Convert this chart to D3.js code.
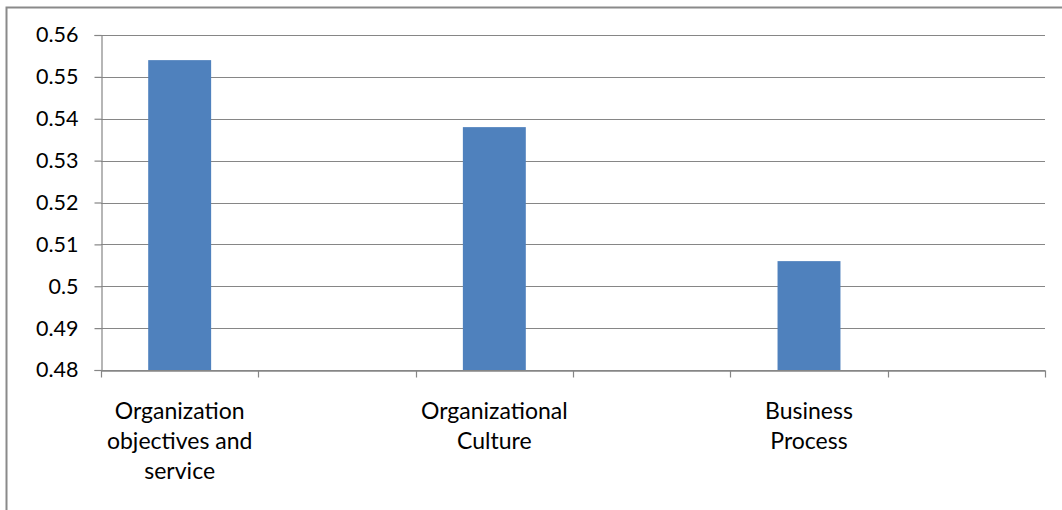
<!DOCTYPE html>
<html><head><meta charset="utf-8">
<script src="https://cdn.jsdelivr.net/npm/d3@7"></script>
<style>html,body{margin:0;padding:0;background:#fff;overflow:hidden}</style>
</head><body>
<svg id="chart" width="1062" height="510"></svg>
<script>
const categories = ["Organization objectives and service", "c2", "Organizational Culture", "c4", "Business Process", "c6"];
const categoryLabels = [["Organization","objectives and","service"], [], ["Organizational","Culture"], [], ["Business","Process"], []];
const values = [0.554, null, 0.538, null, 0.506, null];
const yTicks = [0.48, 0.49, 0.5, 0.51, 0.52, 0.53, 0.54, 0.55, 0.56];
const yTickLabels = ["0.48","0.49","0.5","0.51","0.52","0.53","0.54","0.55","0.56"];

(function () {
const svg = d3.select("#chart");
const mLeft = 101, mRight = 1045, mTop = 35, mBottom = 370;
const font = "Lato, 'Liberation Sans', sans-serif";
const gray = "#868686";

svg.append("rect").attr("x", 6.5).attr("y", 7.5).attr("width", 1100).attr("height", 600)
  .attr("fill", "none").attr("stroke", "#8a8a8a").attr("stroke-width", 2);

const x = d3.scaleBand().domain(categories).range([mLeft, mRight]).paddingInner(0.6).paddingOuter(0.3);
const xSlot = d3.scaleBand().domain(categories).range([mLeft, mRight]).padding(0);
const y = d3.scaleLinear().domain([0.48, 0.56]).range([mBottom, mTop]);

svg.append("g").selectAll("line").data(yTicks).join("line")
  .attr("x1", mLeft).attr("x2", mRight)
  .attr("y1", d => Math.round(y(d)) + 0.5).attr("y2", d => Math.round(y(d)) + 0.5)
  .attr("stroke", gray).attr("stroke-width", 1.2);

svg.append("g").selectAll("rect").data(categories.map((c, i) => ({c, v: values[i]})).filter(d => d.v != null))
  .join("rect")
  .attr("x", d => x(d.c)).attr("width", x.bandwidth())
  .attr("y", d => y(d.v)).attr("height", d => y(0.48) - y(d.v))
  .attr("fill", "#4F81BD");

const yAxis = d3.axisLeft(y).tickValues(yTicks).tickFormat((d, i) => yTickLabels[i]).tickSize(7).tickPadding(16);
const gy = svg.append("g").attr("transform", `translate(${mLeft + 0.5},0)`).call(yAxis);
gy.select(".domain").attr("stroke", gray).attr("stroke-width", 1.2);
gy.selectAll(".tick line").attr("stroke", gray).attr("stroke-width", 1.2);
gy.selectAll(".tick text").attr("font-family", font).attr("font-size", 21.5).attr("fill", "#000");

const xAxis = d3.axisBottom(xSlot).tickSize(0).tickFormat("");
const gx = svg.append("g").attr("transform", `translate(0,${mBottom + 0.5})`).call(xAxis);
gx.select(".domain").attr("stroke", gray).attr("stroke-width", 1.6);
gx.selectAll(".tick").remove();
const boundaries = categories.map(c => xSlot(c)).concat([mRight]);
gx.selectAll("line.b").data(boundaries).join("line").attr("class", "b")
  .attr("x1", d => Math.round(d) + 0.5).attr("x2", d => Math.round(d) + 0.5)
  .attr("y1", 0).attr("y2", 7).attr("stroke", gray).attr("stroke-width", 1.2);

const labelG = svg.append("g");
categories.forEach((c, i) => {
  const lines = categoryLabels[i];
  if (!lines.length) return;
  const t = labelG.append("text").attr("font-family", font).attr("font-size", 23)
    .attr("text-anchor", "middle").attr("fill", "#000");
  lines.forEach((l, j) => {
    t.append("tspan").attr("x", xSlot(c) + xSlot.bandwidth() / 2).attr("y", 419 + j * 30).text(l);
  });
});
})();
</script>
</body></html>
